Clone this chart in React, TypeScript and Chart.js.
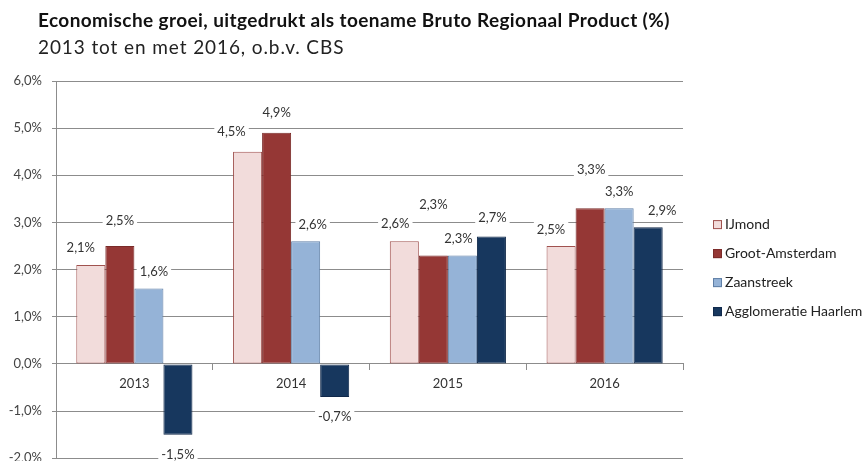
import React, { useEffect, useRef } from "react";
import { Chart, registerables } from "chart.js";

Chart.register(...registerables);

const categories = ["2013", "2014", "2015", "2016"];
const seriesNames = ["IJmond", "Groot-Amsterdam", "Zaanstreek", "Agglomeratie Haarlem"];
const ijmond = [2.1, 4.5, 2.6, 2.5];
const grootAmsterdam = [2.5, 4.9, 2.3, 3.3];
const zaanstreek = [1.6, 2.6, 2.3, 3.3];
const haarlem = [-1.5, -0.7, 2.7, 2.9];
const yMin = -2;
const yMax = 6;
const yStep = 1;

// label placement tweaks (px), per series per category
const labelDx = [
  [-10, -16, -9, -10],
  [0, 0, 0, 1],
  [5, 7, -4, 0],
  [0, 0, 1, 14],
];
const labelDy = [
  [17, 20, 17, 16],
  [25, 20, 51, 38],
  [17, 16, 17, 16],
  [20, 20, 19, 16],
];

const fills = ["#F2DCDB", "#953735", "#95B3D7", "#17375E"];
const borders = ["#A0524F", "#7A2B29", "#5F7FA6", "#10284A"];
const FONT = "Lato, 'Noto Sans', sans-serif";

const fmt = (v: number) => v.toFixed(1).replace(".", ",") + "%";

const labelPlugin = {
  id: "barLabels",
  afterDatasetsDraw(chart: any) {
    const ctx = chart.ctx;
    ctx.save();
    ctx.font = `13px ${FONT}`;
    ctx.textAlign = "center";
    ctx.textBaseline = "middle";
    chart.data.datasets.forEach((ds: any, si: number) => {
      const meta = chart.getDatasetMeta(si);
      meta.data.forEach((el: any, i: number) => {
        const v = ds.data[i];
        const text = fmt(v);
        const x = el.x + labelDx[si][i];
        const y = v >= 0 ? el.y - labelDy[si][i] : el.y + labelDy[si][i];
        const w = ctx.measureText(text).width + 6;
        ctx.fillStyle = "#ffffff";
        ctx.fillRect(x - w / 2, y - 8, w, 16);
        ctx.fillStyle = "#333333";
        ctx.fillText(text, x, y);
      });
    });
    ctx.restore();
  },
};

const legendPlugin = {
  id: "sideLegend",
  afterDraw(chart: any) {
    const ctx = chart.ctx;
    const area = chart.chartArea;
    const cy = (area.top + area.bottom) / 2 - 1.5;
    const gap = 29;
    ctx.save();
    ctx.font = `14px ${FONT}`;
    ctx.textBaseline = "middle";
    ctx.textAlign = "left";
    chart.data.datasets.forEach((ds: any, i: number) => {
      const y = cy + (i - 1.5) * gap;
      const bx = area.right + 30;
      ctx.fillStyle = ds.backgroundColor;
      ctx.fillRect(bx, y - 4.5, 9, 9);
      ctx.strokeStyle = ds.borderColor;
      ctx.lineWidth = 1;
      ctx.strokeRect(bx + 0.5, y - 4, 8, 8);
      ctx.fillStyle = "#222222";
      ctx.fillText(ds.label, bx + 12, y);
    });
    ctx.restore();
  },
};

export default function App() {
  const ref = useRef<HTMLCanvasElement | null>(null);
  useEffect(() => {
    if (!ref.current) return;
    const seriesValues = [ijmond, grootAmsterdam, zaanstreek, haarlem];
    const chart = new Chart(ref.current, {
      type: "bar",
      data: {
        labels: categories,
        datasets: seriesValues.map((vals, i) => ({
          label: seriesNames[i],
          data: vals,
          backgroundColor: fills[i],
          borderColor: borders[i],
          borderWidth: 1,
          borderSkipped: false,
          categoryPercentage: 0.741,
          barPercentage: 1,
        })),
      },
      options: {
        animation: false,
        responsive: true,
        maintainAspectRatio: false,
        layout: { padding: { left: 0, right: 185, top: 81, bottom: 13 } },
        plugins: {
          legend: { display: false },
          tooltip: { enabled: false },
          title: { display: false },
        },
        scales: {
          y: {
            min: yMin,
            max: yMax,
            afterFit: (s: any) => {
              s.width = 56;
            },
            ticks: {
              stepSize: yStep,
              padding: 10,
              color: "#444444",
              font: { family: FONT, size: 13 },
              callback: (v: any) => fmt(Number(v)),
            },
            grid: { color: "#8C8C8C", lineWidth: 1, tickLength: 4 },
            border: { color: "#8C8C8C" },
          },
          x: {
            position: { y: 0 } as any,
            offset: true,
            ticks: {
              padding: 6,
              color: "#333333",
              font: { family: FONT, size: 13 },
            },
            grid: {
              offset: true,
              drawOnChartArea: false,
              drawTicks: true,
              tickLength: 6,
              color: "#8C8C8C",
            },
            border: { color: "#8C8C8C" },
          },
        },
      },
      plugins: [labelPlugin, legendPlugin],
    });
    return () => chart.destroy();
  }, []);

  return (
    <div
      style={{
        position: "absolute",
        left: 0,
        top: 0,
        width: 868,
        height: 461,
        overflow: "hidden",
        background: "#ffffff",
      }}
    >
      <div style={{ position: "absolute", left: 0, top: 0, width: 868, height: 476 }}>
        <canvas ref={ref} />
      </div>
      <div
        style={{
          position: "absolute",
          left: 38,
          top: 8,
          fontFamily: FONT,
          fontWeight: 700,
          fontSize: 19,
          letterSpacing: "0.4px",
          color: "#111111",
          whiteSpace: "nowrap",
          lineHeight: "24px",
        }}
      >
        Economische groei, uitgedrukt als toename Bruto Regionaal Product (%)
      </div>
      <div
        style={{
          position: "absolute",
          left: 38,
          top: 35,
          fontFamily: FONT,
          fontSize: 19,
          letterSpacing: "0.9px",
          color: "#222222",
          whiteSpace: "nowrap",
          lineHeight: "24px",
        }}
      >
        2013 tot en met 2016, o.b.v. CBS
      </div>
    </div>
  );
}
